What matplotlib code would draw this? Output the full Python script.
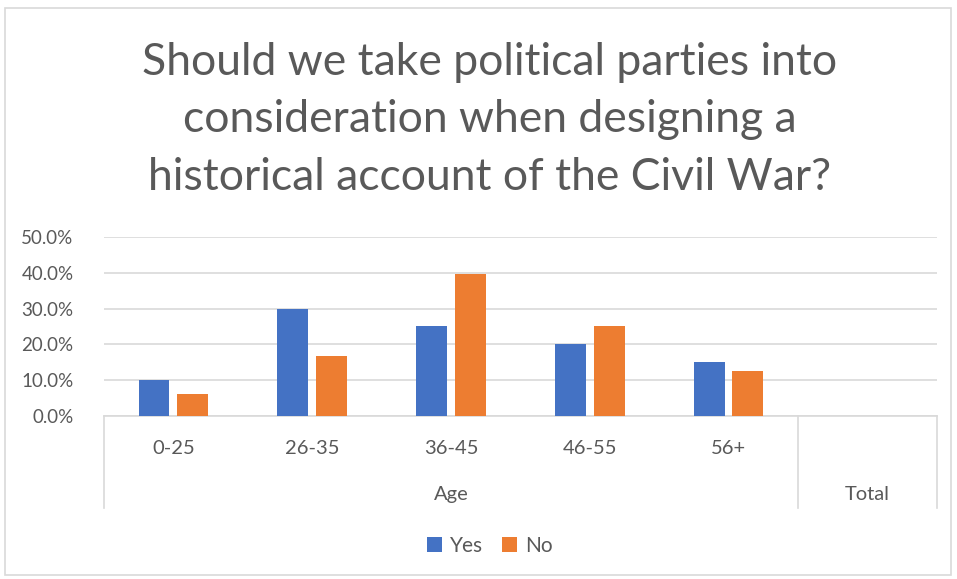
import numpy as np
import matplotlib
matplotlib.use("Agg")
import matplotlib.pyplot as plt
from matplotlib.ticker import PercentFormatter
from matplotlib.patches import Rectangle
import matplotlib.transforms as mtransforms

plt.rcParams['font.family'] = ['Lato', 'DejaVu Sans']

# data
ages = ['0-25', '26-35', '36-45', '46-55', '56+']
yes = [0.10, 0.30, 0.25, 0.20, 0.15]
no = [0.0625, 0.167, 0.396, 0.25, 0.125]
groups = ['Age', 'Total']

title = ('Should we take political parties into\n'
         'consideration when designing a\n'
         'historical account of the Civil War?')

text_col = '#595959'
grid_col = '#D9D9D9'
blue = '#4472C4'
orange = '#ED7D31'

fig = plt.figure(figsize=(9.57, 5.79), dpi=100)
ax = fig.add_axes([0.1087, 0.2815, 0.870, 0.3092])

x = np.arange(len(ages))
w = 0.223
ax.bar(x - 0.14, yes, w, color=blue, label='Yes', zorder=3)
ax.bar(x + 0.14, no, w, color=orange, label='No', zorder=3)

ax.set_xlim(-0.5, len(ages) + 0.5)
ax.set_ylim(0, 0.5)
ax.set_yticks(np.arange(0, 0.51, 0.1))
ax.yaxis.set_major_formatter(PercentFormatter(1.0, decimals=1))
ax.tick_params(axis='y', length=0, labelsize=13.5, labelcolor=text_col, pad=22)
ax.set_xticks([])
ax.grid(axis='y', color=grid_col, linewidth=1.2, zorder=0)
for s in ['top', 'right', 'left']:
    ax.spines[s].set_visible(False)
ax.spines['bottom'].set_color(grid_col)
ax.spines['bottom'].set_linewidth(1.2)

# multi-level category axis
trans = mtransforms.blended_transform_factory(ax.transData, ax.transAxes)
for i, lab in enumerate(ages):
    ax.text(i, -0.184, lab, transform=trans, ha='center', va='center',
            fontsize=14.5, color=text_col)
n = len(ages)
ax.text((n - 1) / 2, -0.436, groups[0], transform=trans, ha='center',
        va='center', fontsize=14.5, color=text_col)
ax.text(n, -0.436, groups[1], transform=trans, ha='center',
        va='center', fontsize=14.5, color=text_col)
for xs in [-0.5, n - 0.5, n + 0.5]:
    ax.plot([xs, xs], [0, -0.514], transform=trans, color=grid_col,
            linewidth=1.2, clip_on=False)

fig.text(0.512, 1 - 120 / 579, title, ha='center', va='center',
         fontsize=32, color=text_col, linespacing=1.5)

fig.legend(loc='center', bbox_to_anchor=(0.512, 1 - 546 / 579), ncol=2,
           frameon=False, fontsize=15, labelcolor=text_col,
           handlelength=0.7, handleheight=0.7, handletextpad=0.4,
           columnspacing=0.9)

fig.patches.append(Rectangle((5 / 957, 1 - 575 / 579), 946 / 957, 567 / 579,
                             transform=fig.transFigure, fill=False,
                             edgecolor=grid_col, linewidth=1.2))

fig.savefig('out.png', dpi=100)
